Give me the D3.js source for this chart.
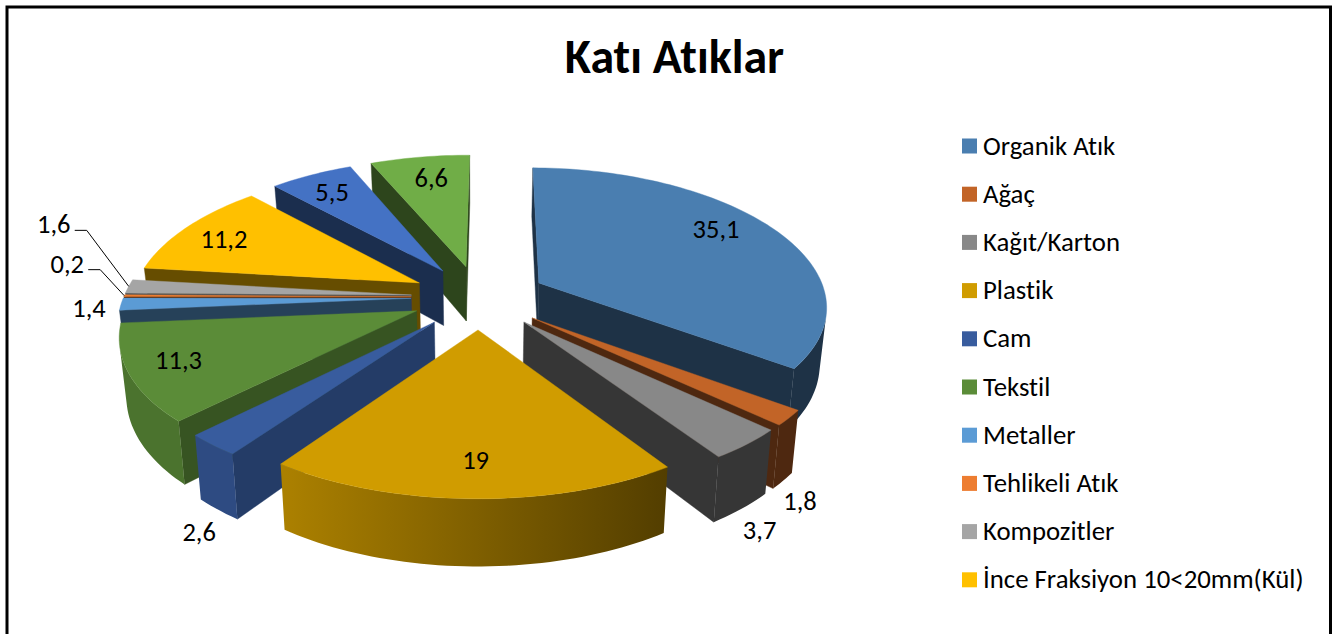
<!DOCTYPE html>
<html><head><meta charset="utf-8">
<script src="https://cdn.jsdelivr.net/npm/d3@7"></script>
<style>html,body{margin:0;padding:0;background:#fff;overflow:hidden}svg{display:block}text{font-family:Carlito,Lato,"Open Sans",sans-serif;fill:#000;font-variant-ligatures:none}</style>
</head><body><svg id="c" width="1336" height="634"></svg>
<script>
const title = "Katı Atıklar";
const categories = ["Organik Atık","Ağaç","Kağıt/Karton","Plastik","Cam","Tekstil","Metaller","Tehlikeli Atık","Kompozitler","İnce Fraksiyon 10<20mm(Kül)"];
const values = [35.1,1.8,3.7,19,2.6,11.3,1.4,0.2,1.6,11.2,5.5,6.6];
const labels = ["35,1","1,8","3,7","19","2,6","11,3","1,4","0,2","1,6","11,2","5,5","6,6"];
const colors = ["#4A7EB0","#C26427","#888888","#D09C00","#385C9E","#5B8C38","#5B9BD5","#ED7D31","#A5A5A5","#FFC000","#4472C4","#70AD47"];
const sideShade = [.4,.4,.4,.4,.65,.6,.42,.4,.5,.4,.4,.4];

const H=634;
const svg=d3.select("#c");
const cx=479,cy=297,A=287.5,T=135,k=.14,kx=.155,depth=56,explode=.236,bottomShrink=.98;
const legendX=962,legendY=146,legendStep=48.2,legendBox=15;

function shade(c,f){const r=d3.rgb(c);return d3.rgb(r.r*f,r.g*f,r.b*f).formatHex();}
function project(m,bottom){
  const w=1-k*m.y, wx=1-kx*m.y;
  return [cx+A*m.x/wx*(bottom?bottomShrink:1), cy+T*m.y/w+(bottom?depth/w:0)];
}
const rot=0.008;
const pie=d3.pie().sort(null).value(d=>d).startAngle(rot).endAngle(2*Math.PI+rot);
const arcs=pie(values).map((d,i)=>{
  const mid=(d.startAngle+d.endAngle)/2;
  return {i,a0:d.startAngle,a1:d.endAngle,mid,ox:explode*Math.sin(mid),oy:-explode*Math.cos(mid)};
});
function model(s,a,r){return {x:s.ox+r*Math.sin(a),y:s.oy-r*Math.cos(a)};}
const line=d3.line();
const defs=svg.append("defs");
const order=arcs.slice().sort((p,q)=>(-Math.cos(p.mid))-(-Math.cos(q.mid)));
const chart=svg.append("g");

order.forEach(s=>{
  const c=colors[s.i];
  const g=chart.append("g");
  const apex=model(s,0,0);
  const n=Math.max(6,Math.ceil((s.a1-s.a0)*40));
  const rim=d3.range(n+1).map(j=>model(s,s.a0+(s.a1-s.a0)*j/n,1));
  // radial faces, only those turned toward the viewer
  [[s.a0,1],[s.a1,-1]].forEach(([a,sign])=>{
    const o=model(s,a,1);
    const poly=[project(apex),project(o),project(o,true),project(apex,true)];
    if(d3.polygonArea(poly)*sign>0.5){
      const f=shade(c,sideShade[s.i]);
      g.append("path").attr("d",line(poly)+"Z").attr("fill",f).attr("stroke",f).attr("stroke-width",.4);
    }
  });
  // outer face: only the part turned toward the viewer, with horizontal light falloff
  const vis=d3.range(n).filter(j=>d3.polygonArea([project(rim[j]),project(rim[j+1]),project(rim[j+1],true),project(rim[j],true)])>0);
  if(vis.length){
    const id="rimGrad"+s.i;
    const gr=defs.append("linearGradient").attr("id",id).attr("gradientUnits","userSpaceOnUse")
      .attr("x1",286).attr("x2",667).attr("y1",0).attr("y2",0);
    gr.append("stop").attr("offset",0).attr("stop-color",shade(c,.82));
    gr.append("stop").attr("offset",1).attr("stop-color",shade(c,.4));
    const run=rim.slice(d3.min(vis),d3.max(vis)+2);
    const poly=run.map(m=>project(m)).concat(run.slice().reverse().map(m=>project(m,true)));
    g.append("path").attr("d",line(poly)+"Z").attr("fill",`url(#${id})`);
  }
  // top face
  const top=[project(apex)].concat(rim.map(m=>project(m)));
  g.append("path").attr("d",line(top)+"Z").attr("fill",c).attr("stroke",c).attr("stroke-width",.4);
});

// data labels
const labelSize=26.5;
const labelMode=["in","out","out","in","out","in","lead","lead","lead","in","in","in"];
const labelNudge=[[15,-16],[-14,-1],[-11,-2],[1,21],[10,-1],[-47,7],[-32,4],[-57,-32],[-75,-62],[-34,-5],[-18,-12],[-2,-11]];
const L=svg.append("g");
arcs.forEach(s=>{
  const mode=labelMode[s.i], nudge=labelNudge[s.i];
  let p;
  if(mode==="in"){p=project(model(s,s.mid,.68));}
  else if(mode==="out"){
    p=project(model(s,s.mid,1.06),true);
    p=[p[0]+(Math.sin(s.mid)>0?14:-14),p[1]+14];
  } else {p=project(model(s,s.mid,1));}
  const e=p;
  p=[p[0]+nudge[0],p[1]+nudge[1]];
  if(mode==="lead"&&s.i!==6){
    L.append("path").attr("d",line([[p[0]+21,p[1]+6],[p[0]+33,p[1]+6],e]))
      .attr("fill","none").attr("stroke","#000").attr("stroke-width",1);
  }
  L.append("text").attr("x",p[0]).attr("y",p[1]).attr("text-anchor","middle").attr("dominant-baseline","central")
    .attr("font-size",labelSize).text(labels[s.i]);
});

// title
svg.append("text").attr("x",674.5).attr("y",72.5).attr("text-anchor","middle").attr("font-size",47.9).attr("font-weight",700).text(title);

// legend
const leg=svg.append("g").selectAll("g").data(categories).join("g")
  .attr("transform",(d,i)=>`translate(${legendX},${legendY+legendStep*i})`);
leg.append("rect").attr("x",0).attr("y",-legendBox/2).attr("width",legendBox).attr("height",legendBox).attr("fill",(d,i)=>colors[i]);
leg.append("text").attr("x",21).attr("y",-1).attr("dominant-baseline","central").attr("font-size",26.8).text(d=>d);

// frame
svg.append("path").attr("d",`M7,${H}V7H1330.5V${H}`).attr("fill","none").attr("stroke","#000").attr("stroke-width",3);
</script></body></html>
